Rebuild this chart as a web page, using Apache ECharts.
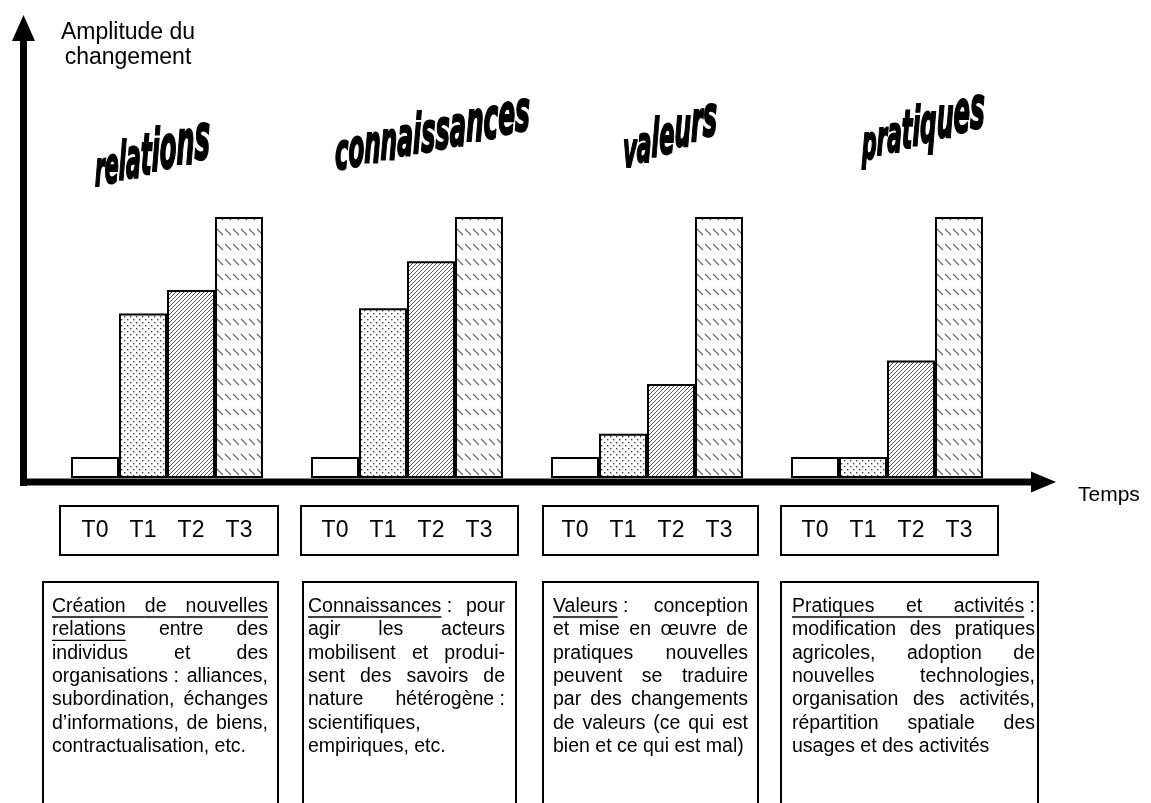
<!DOCTYPE html>
<html>
<head>
<meta charset="utf-8">
<script src="https://cdn.jsdelivr.net/npm/echarts@6/dist/echarts.min.js"></script>
<style>
html, body { margin: 0; padding: 0; background: #fff; }
#main { width: 1151px; height: 803px; }
</style>
</head>
<body>
<div id="main"></div>
<script>
// categories (one group of bars per kind of change) and time steps
var groups = ['relations', 'connaissances', 'valeurs', 'pratiques'];
var times = ['T0', 'T1', 'T2', 'T3'];

// amplitude of change (T3 = 100)
var valT0 = [8, 8, 8, 8];
var valT1 = [63, 65, 17, 8];
var valT2 = [72, 83, 36, 45];
var valT3 = [100, 100, 100, 100];

var yTitle = ['Amplitude du', 'changement'];
var xTitle = 'Temps';

// text under each group ('_' = underlined word, second item = justified line)
var descRelations = [
  ['_Création _de _nouvelles', 1],
  ['_relations entre des', 1],
  ['individus et des', 1],
  ['organisations\u00a0: alliances,', 1],
  ['subordination, échanges', 1],
  ['d\u2019informations, de biens,', 1],
  ['contractualisation, etc.', 0]
];
var descConnaissances = [
  ['_Connaissances\u00a0: pour', 1],
  ['agir les acteurs', 1],
  ['mobilisent et produi-', 1],
  ['sent des savoirs de', 1],
  ['nature hétérogène\u00a0:', 1],
  ['scientifiques,', 0],
  ['empiriques, etc.', 0]
];
var descValeurs = [
  ['_Valeurs\u00a0: conception', 1],
  ['et mise en \u0153uvre de', 1],
  ['pratiques nouvelles', 1],
  ['peuvent se traduire', 1],
  ['par des changements', 1],
  ['de valeurs (ce qui est', 1],
  ['bien et ce qui est mal)', 0]
];
var descPratiques = [
  ['_Pratiques _et _activités\u00a0:', 1],
  ['modification des pratiques', 1],
  ['agricoles, adoption de', 1],
  ['nouvelles technologies,', 1],
  ['organisation des activités,', 1],
  ['répartition spatiale des', 1],
  ['usages et des activités', 0]
];

var myChart = echarts.init(document.getElementById('main'));
var mctx = document.createElement('canvas').getContext('2d');
function textWidth(s, font) {
  mctx.font = font;
  return mctx.measureText(s).width;
}

// fill patterns of the bars
function makePattern(kind) {
  var c = document.createElement('canvas');
  var w = 6, h = 6;
  if (kind === 'hatch') { w = 4; h = 4; }
  if (kind === 'dash') { w = 8; h = 15; }
  c.width = w;
  c.height = h;
  var g = c.getContext('2d');
  g.fillStyle = '#fff';
  g.fillRect(0, 0, w, h);
  if (kind === 'dots') {
    g.fillStyle = '#444';
    g.fillRect(1, 1, 1.4, 1.4);
    g.fillRect(4, 4, 1.4, 1.4);
  } else if (kind === 'hatch') {
    g.strokeStyle = '#444';
    g.lineWidth = 0.9;
    g.beginPath();
    g.moveTo(0, 4); g.lineTo(4, 0);
    g.moveTo(-1, 1); g.lineTo(1, -1);
    g.moveTo(3, 5); g.lineTo(5, 3);
    g.stroke();
  } else if (kind === 'dash') {
    g.strokeStyle = '#666';
    g.lineWidth = 1.1;
    g.beginPath();
    g.moveTo(1, 4); g.lineTo(7, 10);
    g.stroke();
  }
  return { image: c, repeat: 'repeat' };
}
var fills = ['#fff', makePattern('dots'), makePattern('hatch'), makePattern('dash')];
var values = [valT0, valT1, valT2, valT3];

var graphics = [];

// axes drawn as thick arrows
graphics.push({ type: 'rect', shape: { x: 20, y: 36, width: 7, height: 450 }, style: { fill: '#000' }, z: 100 });
graphics.push({ type: 'polygon', shape: { points: [[12, 41], [23.5, 15], [35, 41]] }, style: { fill: '#000' }, z: 100 });
graphics.push({ type: 'rect', shape: { x: 20, y: 478.5, width: 1013, height: 7 }, style: { fill: '#000' }, z: 100 });
graphics.push({ type: 'polygon', shape: { points: [[1031, 471.5], [1056, 482], [1031, 492.5]] }, style: { fill: '#000' }, z: 100 });

var labelFont = { fontFamily: '"Liberation Sans", Arial, sans-serif', fill: '#000' };
graphics.push({ type: 'text', x: 128, y: 33, style: Object.assign({ text: yTitle[0], fontSize: 23, align: 'center', verticalAlign: 'middle' }, labelFont) });
graphics.push({ type: 'text', x: 128, y: 57.5, style: Object.assign({ text: yTitle[1], fontSize: 23, align: 'center', verticalAlign: 'middle' }, labelFont) });
graphics.push({ type: 'text', x: 1078, y: 495, style: Object.assign({ text: xTitle, fontSize: 21, align: 'left', verticalAlign: 'middle' }, labelFont) });

// boxes round the time labels and the descriptions
var tBoxes = [[60, 218], [301, 217], [543, 215], [781, 217]];
var dBoxes = [[43, 235], [303, 213], [543, 215], [781, 257]];
tBoxes.forEach(function (b) {
  graphics.push({ type: 'rect', shape: { x: b[0], y: 506, width: b[1], height: 49 }, style: { fill: null, stroke: '#000', lineWidth: 2 } });
});
dBoxes.forEach(function (b) {
  graphics.push({ type: 'rect', shape: { x: b[0], y: 582, width: b[1], height: 260 }, style: { fill: null, stroke: '#000', lineWidth: 2 } });
});

// justified paragraph, word by word
var DESC_SIZE = 19.5;
var DESC_FAMILY = '"Liberation Sans", Arial, sans-serif';
var DESC_FONT = DESC_SIZE + 'px ' + DESC_FAMILY;
function descBlock(lines, x0, x1, yFirst, lineH) {
  lines.forEach(function (ln, li) {
    var y = yFirst + li * lineH;
    var words = ln[0].split(' ').map(function (t) {
      var u = t.charAt(0) === '_';
      var s = u ? t.slice(1) : t;
      return { u: u, s: s, w: textWidth(s, DESC_FONT) };
    });
    var sum = words.reduce(function (a, w) { return a + w.w; }, 0);
    var gap = (ln[1] && words.length > 1) ? (x1 - x0 - sum) / (words.length - 1) : textWidth(' ', DESC_FONT);
    var x = x0;
    words.forEach(function (w, i) {
      graphics.push({ type: 'text', x: x, y: y, style: { text: w.s, fontSize: DESC_SIZE, fontFamily: DESC_FAMILY, fill: '#000', align: 'left', verticalAlign: 'middle' } });
      if (w.u) {
        var next = words[i + 1];
        var end = (next && next.u) ? x + w.w + gap : x + textWidth(w.s.split('\u00a0')[0], DESC_FONT);
        graphics.push({ type: 'line', shape: { x1: x, y1: y + 10.5, x2: end, y2: y + 10.5 }, style: { stroke: '#000', lineWidth: 1.3 } });
      }
      x += w.w + gap;
    });
  });
}
descBlock(descRelations, 52, 268, 606.5, 23.33);
descBlock(descConnaissances, 308, 505, 606.5, 23.33);
descBlock(descValeurs, 553, 748, 606.5, 23.33);
descBlock(descPratiques, 792, 1035, 606.5, 23.33);

// slanted heavy titles, letters growing toward the right
var TITLE_FAMILY = '"DejaVu Sans", sans-serif';
function wordArt(word, xL, xR, yL, yR, fsL, fsR) {
  var chars = word.split('');
  var adv = chars.map(function (ch) { return textWidth(ch, 'italic bold 100px ' + TITLE_FAMILY); });
  var tot = adv.reduce(function (a, b) { return a + b; }, 0);
  var cum = 0, sizes = [], widths = [];
  adv.forEach(function (a) {
    var fs = fsL + (fsR - fsL) * (cum + a / 2) / tot;
    sizes.push(fs);
    widths.push(a * fs / 100);
    cum += a;
  });
  var W = widths.reduce(function (a, b) { return a + b; }, 0);
  var k = (xR - xL) / W;
  var x = xL;
  chars.forEach(function (ch, i) {
    var cx = x + widths[i] * k / 2;
    var base = yL + (yR - yL) * (cx - xL) / (xR - xL);
    graphics.push({
      type: 'text', x: x, y: base - 0.3 * sizes[i], scaleX: k,
      style: {
        text: ch, fontSize: sizes[i], fontFamily: TITLE_FAMILY, fontWeight: 'bold', fontStyle: 'italic',
        fill: '#000', stroke: '#000', lineWidth: 2.2, align: 'left', verticalAlign: 'middle'
      }
    });
    x += widths[i] * k;
  });
}
wordArt(groups[0], 95, 210, 189, 160, 48, 66);
wordArt(groups[1], 335, 530, 172, 132, 52, 58);
wordArt(groups[2], 623, 717, 172, 135, 50, 58);
wordArt(groups[3], 862, 985, 163, 128, 48, 60);

var option = {
  backgroundColor: '#fff',
  animation: false,
  grid: { left: 47, right: 144, top: 217, bottom: 325 },
  xAxis: {
    type: 'category',
    data: groups,
    axisLine: { show: false },
    axisTick: { show: false },
    axisLabel: { show: false },
    splitLine: { show: false }
  },
  yAxis: {
    type: 'value',
    min: 0,
    max: 100,
    show: false
  },
  graphic: graphics,
  series: []
};
for (var i = 0; i < times.length; i++) {
  option.series.push({
    name: times[i],
    type: 'bar',
    data: values[i],
    barGap: '0%',
    barCategoryGap: '20%',
    silent: true,
    itemStyle: { color: fills[i], borderColor: '#000', borderWidth: 2 },
    label: {
      show: true,
      position: 'bottom',
      distance: 41,
      formatter: '{a}',
      fontSize: 23,
      lineHeight: 23,
      fontFamily: '"Liberation Sans", Arial, sans-serif',
      color: '#000'
    }
  });
}
myChart.setOption(option, true);
</script>
</body>
</html>
